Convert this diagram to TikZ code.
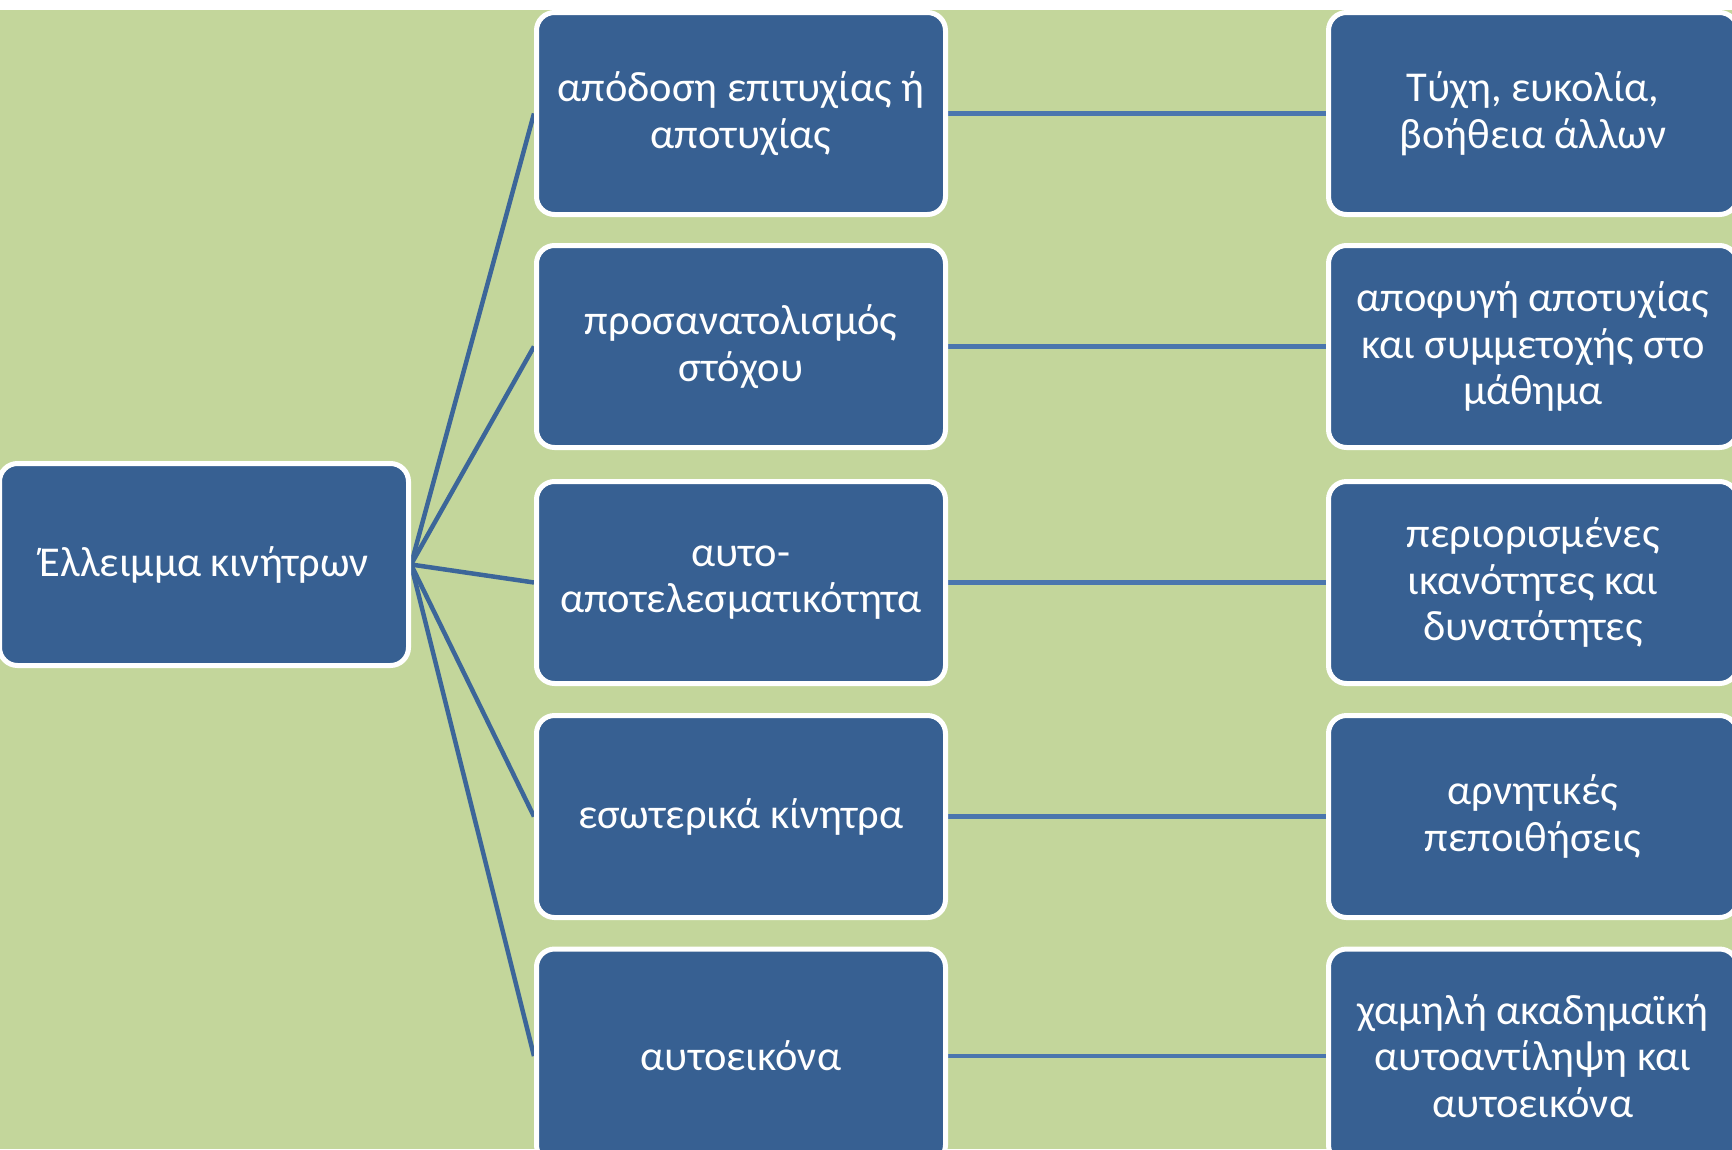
\documentclass[tikz,border=0pt]{standalone}
\usepackage{fontspec}
\setmainfont{Carlito}
\usetikzlibrary{backgrounds}
\definecolor{boxblue}{HTML}{376092}
\definecolor{fanblue}{HTML}{3C6699}
\definecolor{linkblue}{HTML}{4A76AE}
\definecolor{sheetgreen}{HTML}{C3D69B}
\tikzset{
  card/.style={draw=white, line width=5pt, fill=boxblue, rounded corners=18pt,
    minimum width=409pt, minimum height=202pt, inner sep=0pt,
    text=white, align=center, font=\fontsize{42.5}{46.4}\selectfont},
  fan/.style={draw=fanblue, line width=4.5pt},
  link/.style={draw=linkblue, line width=4.5pt}
}
\begin{document}
\begin{tikzpicture}[x=1pt, y=-1pt]
\useasboundingbox (0,0) rectangle (1732,1149);
% root
\node[card] (root) at (204,564.5) {Έλλειμμα κινήτρων};
% middle column
\node[card] (m1) at (741,113.5) {απόδοση επιτυχίας ή\\αποτυχίας};
\node[card] (m2) at (741,346.5) {προσανατολισμός\\στόχου};
\node[card] (m3) at (741,582.5) {αυτο-\\αποτελεσματικότητα};
\node[card] (m4) at (741,816.5) {εσωτερικά κίνητρα};
\node[card, minimum height=214pt] (m5) at (741,1056) {αυτοεικόνα};
% right column
\node[card] (r1) at (1533,113.5) {Τύχη, ευκολία,\\βοήθεια άλλων};
\node[card] (r2) at (1533,346.5) {αποφυγή αποτυχίας\\και συμμετοχής στο\\μάθημα};
\node[card] (r3) at (1533,582.5) {περιορισμένες\\ικανότητες και\\δυνατότητες};
\node[card] (r4) at (1533,816.5) {αρνητικές\\πεποιθήσεις};
\node[card, minimum height=214pt] (r5) at (1533,1056) {χαμηλή ακαδημαϊκή\\αυτοαντίληψη και\\αυτοεικόνα};
\begin{scope}[on background layer]
  \fill[white] (0,0) rectangle (1732,1149);
  \fill[sheetgreen] (0,9.5) rectangle (1732,1149);
  \foreach \i in {1,...,5} {
    \draw[fan] (root.east) -- (m\i.west);
    \draw[link] (m\i.east) -- (r\i.west);
  }
\end{scope}
\end{tikzpicture}
\end{document}
